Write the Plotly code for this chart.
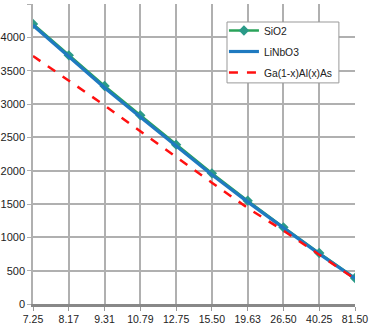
import plotly.graph_objects as go

categories = ["7.25", "8.17", "9.31", "10.79", "12.75", "15.50", "19.63", "26.50", "40.25", "81.50"]
sio2 = [4200, 3730, 3270, 2830, 2390, 1960, 1550, 1150, 765, 390]
linbo3 = [4180, 3705, 3245, 2805, 2368, 1940, 1532, 1135, 752, 382]
gaalas = [3720, 3350, 2980, 2590, 2200, 1820, 1440, 1100, 740, 375]
y_ticks = [0, 500, 1000, 1500, 2000, 2500, 3000, 3500, 4000, 4500]

fig = go.Figure()
fig.add_trace(go.Scatter(x=categories, y=sio2, name="SiO2", mode="lines+markers", legendgroup="a",
                         line=dict(color="#2aa35a", width=2.5),
                         marker=dict(symbol="diamond", size=8, color="#2a9a88")))
fig.add_trace(go.Scatter(x=categories, y=linbo3, name="LiNbO3", mode="lines", legendgroup="b",
                         line=dict(color="#1f7ac0", width=3.2)))
fig.add_trace(go.Scatter(x=categories, y=gaalas, name="Ga(1-x)Al(x)As", mode="lines", legendgroup="c",
                         line=dict(color="#ff1010", width=2.5, dash="dash")))

# opaque legend box
fig.add_shape(type="rect", xref="paper", yref="paper", x0=0.6025, x1=0.950, y0=0.737, y1=0.94,
              fillcolor="white", line=dict(color="#999999", width=1), layer="above")

fig.update_layout(
    width=369, height=328,
    margin=dict(l=33, r=14, t=4, b=24),
    paper_bgcolor="white", plot_bgcolor="white",
    font=dict(family="Liberation Sans, Arial, sans-serif", size=11, color="#222222"),
    showlegend=True,
    legend=dict(x=0.593, y=0.96, xanchor="left", yanchor="top",
                bgcolor="rgba(0,0,0,0)", borderwidth=0,
                font=dict(size=10.3, color="#222222"), tracegroupgap=2,
                itemwidth=30),
    xaxis=dict(type="category", range=[0, 9], showgrid=True, gridcolor="#b0b0b0", gridwidth=1.5,
               ticks="outside", ticklen=4, tickcolor="#999999",
               showline=True, linecolor="#888888", linewidth=2.5, automargin=False,
               tickfont=dict(size=10.5), zeroline=False),
    yaxis=dict(range=[0, 4500], tickvals=y_ticks, showgrid=True, gridcolor="#b0b0b0", gridwidth=1.5,
               ticks="outside", ticklen=4, tickcolor="#b0b0b0", automargin=False,
               showline=True, linecolor="#b0b0b0", linewidth=1.5,
               tickfont=dict(size=11), zeroline=False),
)

fig.write_html("out.html", config={"displayModeBar": False},
               post_script="document.body.style.margin='0';document.body.style.overflow='hidden';")
